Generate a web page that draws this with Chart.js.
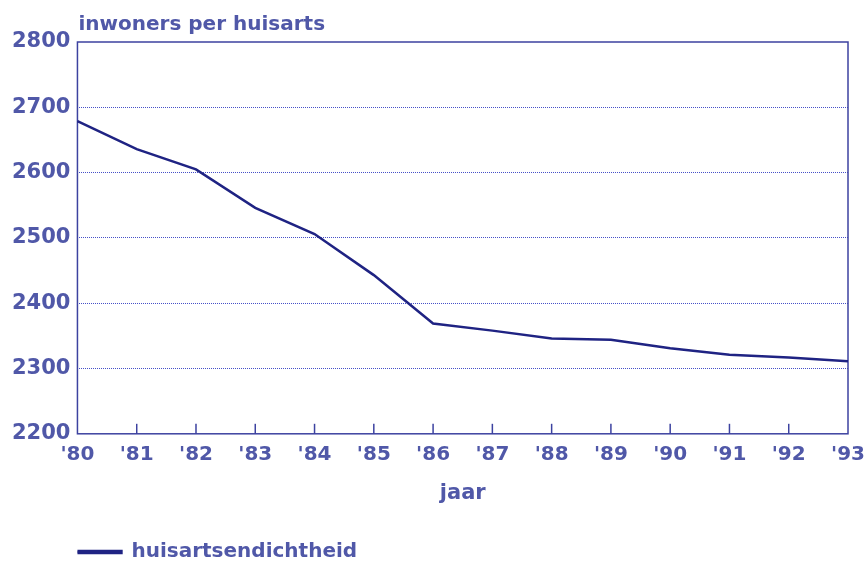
<!DOCTYPE html>
<html lang="nl">
<head>
    <meta charset="utf-8" />
    <title>Huisartsendichtheid</title>
    <style>
        html,
        body {
            margin: 0;
            padding: 0;
            background: #fff;
        }

        #container {
            width: 868px;
            height: 566px;
            position: relative;
        }
    </style>
</head>
<body>
    <div id="container">
        <canvas id="chart"></canvas>
    </div>

    <script src="https://cdn.jsdelivr.net/npm/chart.js@4.4.3/dist/chart.umd.min.js"></script>

    <script>
        const years = ["'80", "'81", "'82", "'83", "'84", "'85", "'86", "'87", "'88", "'89", "'90", "'91", "'92", "'93"];
        const inwonersPerHuisarts = [2679, 2636, 2605, 2546, 2506, 2443, 2369, 2358, 2346, 2344, 2331, 2321, 2317, 2311];
        const yTicks = [2200, 2300, 2400, 2500, 2600, 2700, 2800];

        const textColor = '#5058a8';
        const lineColor = '#1f2383';
        const frameColor = '#3c42a0';
        const gridColor = '#4650c8';
        const fontFamily = "'DejaVu Sans', sans-serif";

        // frame round the plot, inward x ticks and the y title on top
        const framePlugin = {
            id: 'frame',
            beforeDatasetsDraw(chart) {
                const { ctx, chartArea } = chart;
                const x = chart.scales.x;
                ctx.save();
                ctx.strokeStyle = frameColor;
                ctx.lineWidth = 1.5;
                ctx.strokeRect(chartArea.left, chartArea.top, chartArea.right - chartArea.left, chartArea.bottom - chartArea.top);
                for (let i = 1; i < years.length - 1; i++) {
                    const px = x.getPixelForValue(i);
                    ctx.beginPath();
                    ctx.moveTo(px, chartArea.bottom);
                    ctx.lineTo(px, chartArea.bottom - 10);
                    ctx.stroke();
                }
                ctx.restore();
            },
            afterDraw(chart) {
                const { ctx, chartArea } = chart;
                ctx.save();
                ctx.fillStyle = textColor;
                ctx.font = 'bold 20px ' + fontFamily;
                ctx.textBaseline = 'alphabetic';
                ctx.textAlign = 'left';
                ctx.fillText('inwoners per huisarts', chartArea.left + 1, 30);
                ctx.restore();
            }
        };

        const config = {
            type: 'line',
            data: {
                labels: years,
                datasets: [{
                    label: 'huisartsendichtheid',
                    data: inwonersPerHuisarts,
                    borderColor: lineColor,
                    backgroundColor: lineColor,
                    borderWidth: 2.5,
                    pointRadius: 0,
                    tension: 0
                }]
            },
            options: {
                responsive: true,
                maintainAspectRatio: false,
                animation: false,
                layout: {
                    padding: { top: 42, right: 20, left: 5, bottom: -6 }
                },
                plugins: {
                    legend: {
                        position: 'bottom',
                        align: 'start',
                        fullSize: false,
                        labels: {
                            color: textColor,
                            font: { family: fontFamily, size: 20, weight: 'bold' },
                            boxWidth: 44,
                            boxHeight: 2,
                            padding: 0
                        }
                    },
                    tooltip: { enabled: false }
                },
                scales: {
                    x: {
                        offset: false,
                        grid: { display: false },
                        border: { display: false },
                        ticks: {
                            color: textColor,
                            font: { family: fontFamily, size: 20, weight: 'bold' },
                            padding: 1,
                            maxRotation: 0,
                            autoSkip: false
                        },
                        title: {
                            display: true,
                            text: 'jaar',
                            color: textColor,
                            font: { family: fontFamily, size: 21, weight: 'bold' },
                            padding: { top: 13, bottom: 36 }
                        }
                    },
                    y: {
                        min: yTicks[0],
                        max: yTicks[yTicks.length - 1],
                        afterBuildTicks(scale) {
                            scale.ticks = yTicks.map(v => ({ value: v }));
                        },
                        border: { display: false, dash: [1, 1] },
                        grid: {
                            color: ctx => (ctx.tick.value === 2200 || ctx.tick.value === 2800) ? 'rgba(0,0,0,0)' : gridColor,
                            lineWidth: 1,
                            drawTicks: false
                        },
                        ticks: {
                            color: textColor,
                            font: { family: fontFamily, size: 21, weight: 'bold' },
                            padding: 7,
                            callback: v => String(v)
                        }
                    }
                }
            },
            plugins: [framePlugin]
        };

        new Chart(document.getElementById('chart'), config);
    </script>
</body>
</html>
